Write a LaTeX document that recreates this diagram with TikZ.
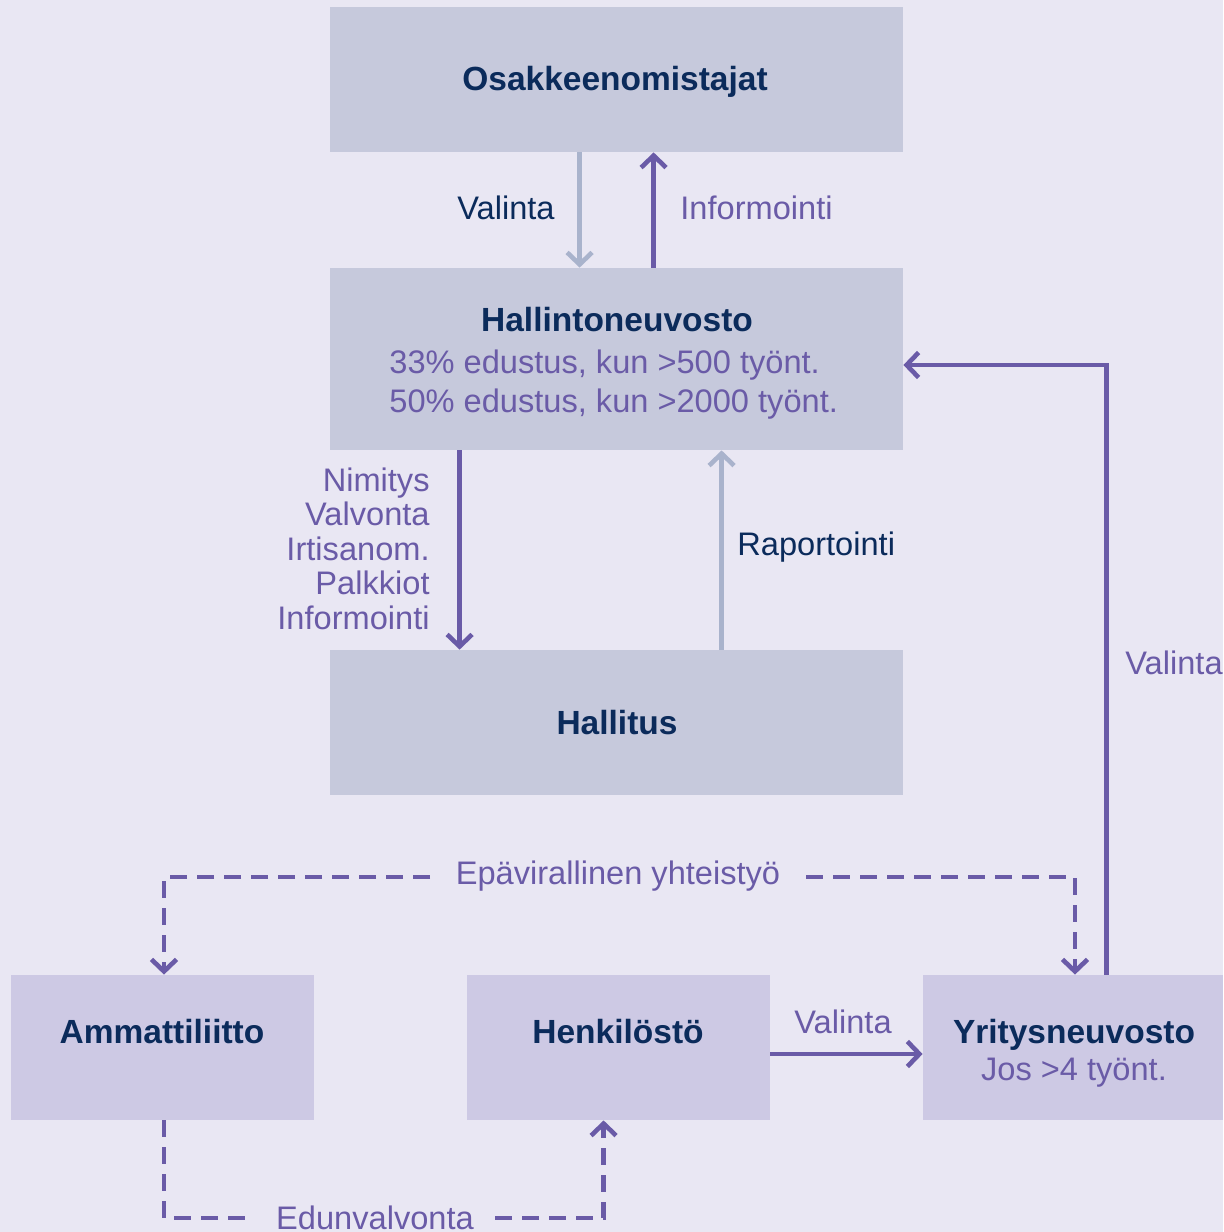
\documentclass[tikz,border=0pt]{standalone}
\usepackage{fontspec}
\setmainfont{Liberation Sans}
\usetikzlibrary{arrows.meta}
\definecolor{bgc}{HTML}{E9E7F3}
\definecolor{topc}{HTML}{C6C9DC}
\definecolor{botc}{HTML}{CDC9E4}
\definecolor{purp}{HTML}{6A5BA7}
\definecolor{lightc}{HTML}{A9B3CC}
\definecolor{navy}{HTML}{0B2B5B}
\begin{document}
\begin{tikzpicture}[x=0.5pt,y=-0.5pt,
  box/.style={rectangle, inner sep=0pt, draw=none},
  topbox/.style={box, fill=topc, minimum width=286.5pt},
  botbox/.style={box, fill=botc, minimum width=151.5pt, minimum height=72.5pt},
  txt/.style={inner sep=0pt, anchor=base},
  title/.style={txt, font=\fontsize{16.75}{19}\selectfont\bfseries, text=navy},
  sub/.style={txt, font=\fontsize{16.3}{19}\selectfont, text=purp},
  dark/.style={txt, font=\fontsize{16.3}{19}\selectfont, text=navy},
  tip/.style={-{Straight Barb[length=6pt,width=12.5pt]}},
  strong/.style={line width=2.3pt, draw=purp, tip},
  weak/.style={line width=2.3pt, draw=lightc, tip},
  dashline/.style={line width=2.3pt, draw=purp, dash pattern=on 8.3pt off 5.2pt},
]
\useasboundingbox (0,0) rectangle (1223,1232);
\fill[bgc] (0,0) rectangle (1223,1232);

% boxes
\node[topbox, minimum height=72.5pt] (osa) at (616.5,79.5) {};
\node[topbox, minimum height=91pt] (hn) at (616.5,359) {};
\node[topbox, minimum height=72.5pt] (hal) at (616.5,722.5) {};
\node[botbox] (amm) at (162.5,1047.5) {};
\node[botbox] (hen) at (618.5,1047.5) {};
\node[botbox, minimum width=150pt] (yri) at (1073,1047.5) {};

% box texts
\node[title] (tosa) at (615,90) {Osakkeenomistajat};
\node[title] (thn) at (617,331) {Hallintoneuvosto};
\node[sub, anchor=base west] (thn1) at (389,373) {33\% edustus, kun >500 työnt.};
\node[sub, anchor=base west] (thn2) at (389,412) {50\% edustus, kun >2000 työnt.};
\node[title] (thal) at (617,734) {Hallitus};
\node[title] (tamm) at (162,1043) {Ammattiliitto};
\node[title] (then) at (618,1043) {Henkilöstö};
\node[title] (tyri) at (1074,1043) {Yritysneuvosto};
\node[sub] (tyri2) at (1074,1080) {Jos >4 työnt.};

% connector labels
\node[dark, anchor=base east] (lval1) at (555,219) {Valinta};
\node[sub, anchor=base west] (linf) at (680,219) {Informointi};
\node[sub, anchor=base east] (lnim1) at (430,491) {Nimitys};
\node[sub, anchor=base east] (lnim2) at (430,525) {Valvonta};
\node[sub, anchor=base east] (lnim3) at (430,560) {Irtisanom.};
\node[sub, anchor=base east] (lnim4) at (430,594) {Palkkiot};
\node[sub, anchor=base east] (lnim5) at (430,629) {Informointi};
\node[dark, anchor=base west] (lrap) at (737,555) {Raportointi};
\node[sub, anchor=base west] (lval2) at (1125,674) {Valinta};
\node[sub] (lepa) at (618,884) {Epävirallinen yhteistyö};
\node[sub] (lval3) at (843,1033) {Valinta};
\node[sub] (ledu) at (375,1229) {Edunvalvonta};

\coordinate (epaL) at (430,877);
\coordinate (epaR) at (806,877);
\coordinate (eduL) at (250,1218);
\coordinate (eduR) at (495,1218);

% connectors
\draw[weak] ([xshift=125pt]osa.south west) -- ([xshift=125pt]hn.north west);
\draw[strong] ([xshift=162pt]hn.north west) -- ([xshift=162pt]osa.south west);
\draw[strong] ([xshift=65pt]hn.south west) -- ([xshift=65pt]hal.north west);
\draw[weak] ([xshift=196pt]hal.north west) -- ([xshift=196pt]hn.south west);
\draw[strong] ([xshift=92pt]yri.north west) |- ([yshift=-3pt]hn.east);
\draw[strong] ([yshift=-3.25pt]hen.east) -- ([yshift=-3.25pt]hen.east -| yri.west);
\draw[dashline, tip] (epaL) -| ([xshift=0.75pt]amm.north);
\draw[dashline, tip] (epaR) -| ([xshift=1pt]yri.north);
\draw[dashline] ([xshift=0.75pt]amm.south) |- (eduL);
\draw[dashline, tip] (eduR) -| ([xshift=68.5pt]hen.south west);
\end{tikzpicture}
\end{document}
